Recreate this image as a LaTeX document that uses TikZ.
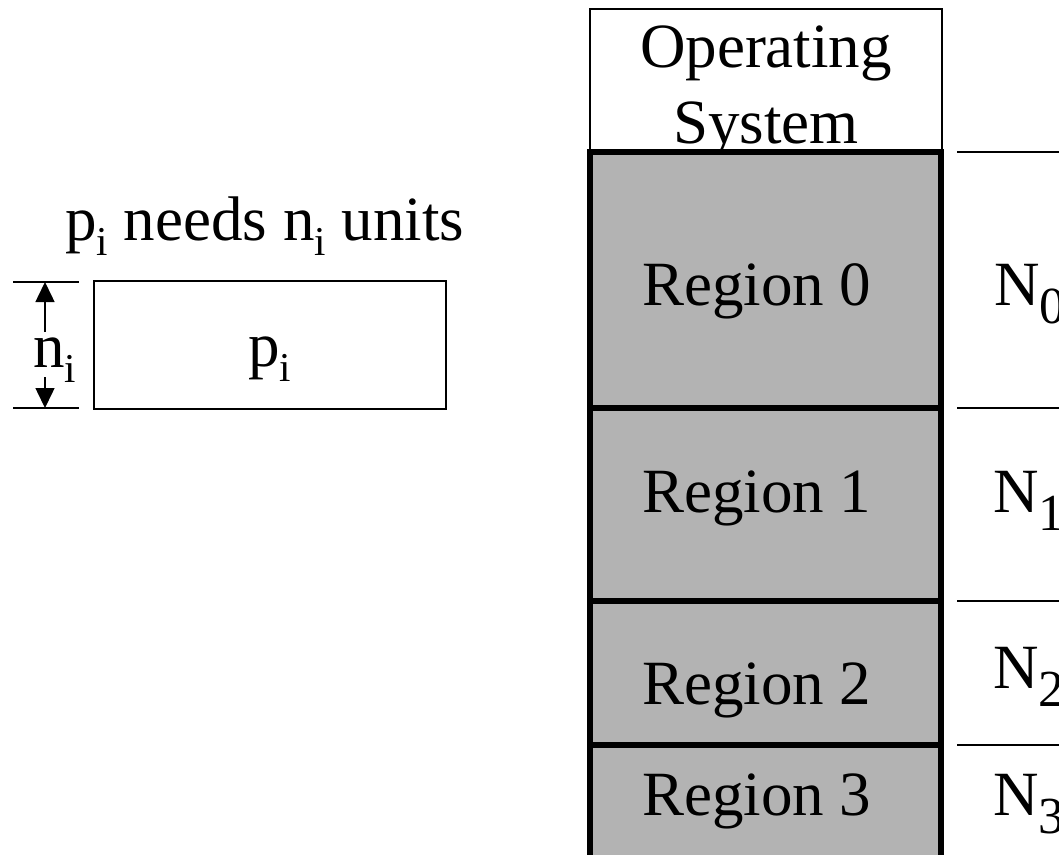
\documentclass[tikz,border=0pt]{standalone}
\usepackage{fontspec}
\setmainfont{Liberation Serif}
\usetikzlibrary{arrows.meta}
\definecolor{regiongray}{RGB}{179,179,179}
% lowered, reduced subscripts: #1 drop below the baseline, #2 size, #3 text
\newcommand\lowsub[3]{\raisebox{-#1}{\fontsize{#2}{#2}\selectfont #3}}
\newcommand\isub{\lowsub{15pt}{41}{i}}
\newcommand\dsub[1]{\lowsub{18pt}{52}{#1}}
\begin{document}
\begin{tikzpicture}[x=1pt,y=-1pt,
  lbl/.style={inner sep=0pt,font=\fontsize{63}{76}\selectfont},
  thinline/.style={line width=1.5pt},
  thickline/.style={line width=6pt,line join=miter},
  dimarrow/.style={line width=1.5pt,-{Triangle[width=19pt,length=20pt]}}]
\useasboundingbox (0,0) rectangle (1059,854);

% ---- single process and its size ----
\node[lbl,anchor=base west] (need) at (65,240) {p\isub{} needs n\isub{} units};
\draw[thinline] (94,281) rectangle (446,409);
\node[lbl,anchor=base west] (proc) at (248,366) {p\isub};
\coordinate (dimtl) at (13,282);
\coordinate (dimtr) at (79,282);
\coordinate (dimbl) at (13,408);
\coordinate (dimbr) at (79,408);
\draw[thinline] (dimtl) -- (dimtr);
\draw[thinline] (dimbl) -- (dimbr);
\node[lbl,anchor=base west] (nsize) at (33,367) {n\isub};
\coordinate (arrtop) at (45,282);
\coordinate (arrbot) at (45,408);
\coordinate (shafttop) at (45,332);
\coordinate (shaftbot) at (45,377);
\draw[dimarrow] (shafttop) -- (arrtop);
\draw[dimarrow] (shaftbot) -- (arrbot);

% ---- memory: operating system and fixed regions ----
\draw[thinline] (590,9) rectangle (942,152);
\node[lbl,anchor=base] (os1) at (766,67) {Operating};
\node[lbl,anchor=base] (os2) at (766,143) {System};

\fill[regiongray] (590,152) rectangle (941,860);
\draw[thickline] (590,860) -- (590,152) -- (941,152) -- (941,860);
\draw[thickline] (590,408) -- (941,408);
\draw[thickline] (590,601) -- (941,601);
\draw[thickline] (590,745) -- (941,745);

\node[lbl,anchor=base west] (r0) at (642,305) {Region 0};
\node[lbl,anchor=base west] (r1) at (642,512) {Region 1};
\node[lbl,anchor=base west] (r2) at (642,704) {Region 2};
\node[lbl,anchor=base west] (r3) at (642,815) {Region 3};

% ---- region sizes ----
\foreach \yy in {152,408,601,745}
  \draw[thinline] (957,\yy) -- (1065,\yy);
\node[lbl,anchor=base west] (n0) at (994,305) {N\dsub{0}};
\node[lbl,anchor=base west] (n1) at (993,512) {N\dsub{1}};
\node[lbl,anchor=base west] (n2) at (993,688) {N\dsub{2}};
\node[lbl,anchor=base west] (n3) at (993,815) {N\dsub{3}};
\end{tikzpicture}
\end{document}
